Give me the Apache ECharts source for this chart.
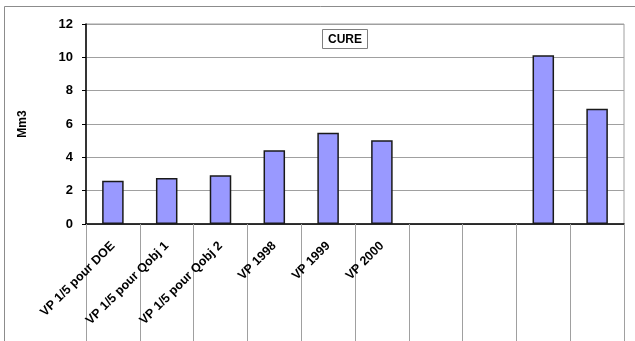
<!DOCTYPE html>
<html>
<head>
<meta charset="utf-8">
<script src="https://cdn.jsdelivr.net/npm/echarts@6/dist/echarts.min.js"></script>
<style>
  html, body { margin: 0; padding: 0; background: #fff; }
  #chart { width: 635px; height: 341px; }
</style>
</head>
<body>
<div id="chart"></div>
<script>
// Volumes per scenario (Mm3); the last four categories carry no label.
const categories = ['VP 1/5 pour DOE', 'VP 1/5 pour Qobj 1', 'VP 1/5 pour Qobj 2', 'VP 1998', 'VP 1999', 'VP 2000', '', '', '', ''];
const volumes = [2.6, 2.76, 2.92, 4.42, 5.48, 5.02, null, null, 10.12, 6.92];
const yTicks = [0, 2, 4, 6, 8, 10, 12];

const chart = echarts.init(document.getElementById('chart'), null, { renderer: 'canvas' });
const FONT = 'Arial, "Liberation Sans", sans-serif';

chart.setOption({
  animation: false,
  backgroundColor: '#ffffff',
  title: {
    text: 'CURE',
    left: 322,
    top: 29,
    padding: [4, 6, 3, 6],
    borderColor: '#7f7f7f',
    borderWidth: 1,
    backgroundColor: '#ffffff',
    textStyle: { fontFamily: FONT, fontSize: 12, fontWeight: 'bold', color: '#000', lineHeight: 13 }
  },
  graphic: [{
    type: 'rect',
    shape: { x: 4.5, y: 6.5, width: 700, height: 400 },
    style: { fill: 'none', stroke: '#8c8c8c', lineWidth: 1 },
    z: -1
  }],
  grid: {
    left: 86, top: 24, right: 11, bottom: 117,
    show: true, borderColor: '#a0a0a0', borderWidth: 1
  },
  xAxis: {
    type: 'category',
    data: categories,
    axisLine: { lineStyle: { color: '#000', width: 1.5 } },
    axisTick: {
      show: true, alignWithLabel: false, interval: 0, length: 120,
      lineStyle: { color: '#a0a0a0', width: 1 }
    },
    axisLabel: {
      interval: 0, rotate: 45, margin: 20,
      fontFamily: FONT, fontSize: 12.5, fontWeight: 'bold', color: '#000'
    }
  },
  yAxis: {
    type: 'value',
    min: yTicks[0],
    max: yTicks[yTicks.length - 1],
    interval: 2,
    name: 'Mm3',
    nameLocation: 'middle',
    nameRotate: 90,
    nameGap: 57,
    nameTextStyle: { fontFamily: FONT, fontSize: 12, fontWeight: 'bold', color: '#000' },
    axisLine: { show: true, lineStyle: { color: '#000', width: 1.5 } },
    axisTick: { show: true, length: 4, lineStyle: { color: '#000' } },
    axisLabel: { margin: 13, fontFamily: FONT, fontSize: 13, fontWeight: 'bold', color: '#000' },
    splitLine: { lineStyle: { color: '#a0a0a0', width: 1 } }
  },
  series: [{
    type: 'bar',
    data: volumes,
    barWidth: '40%',
    itemStyle: { color: '#9999ff', borderColor: '#1a1a1a', borderWidth: 1.5 }
  }]
});
</script>
</body>
</html>
